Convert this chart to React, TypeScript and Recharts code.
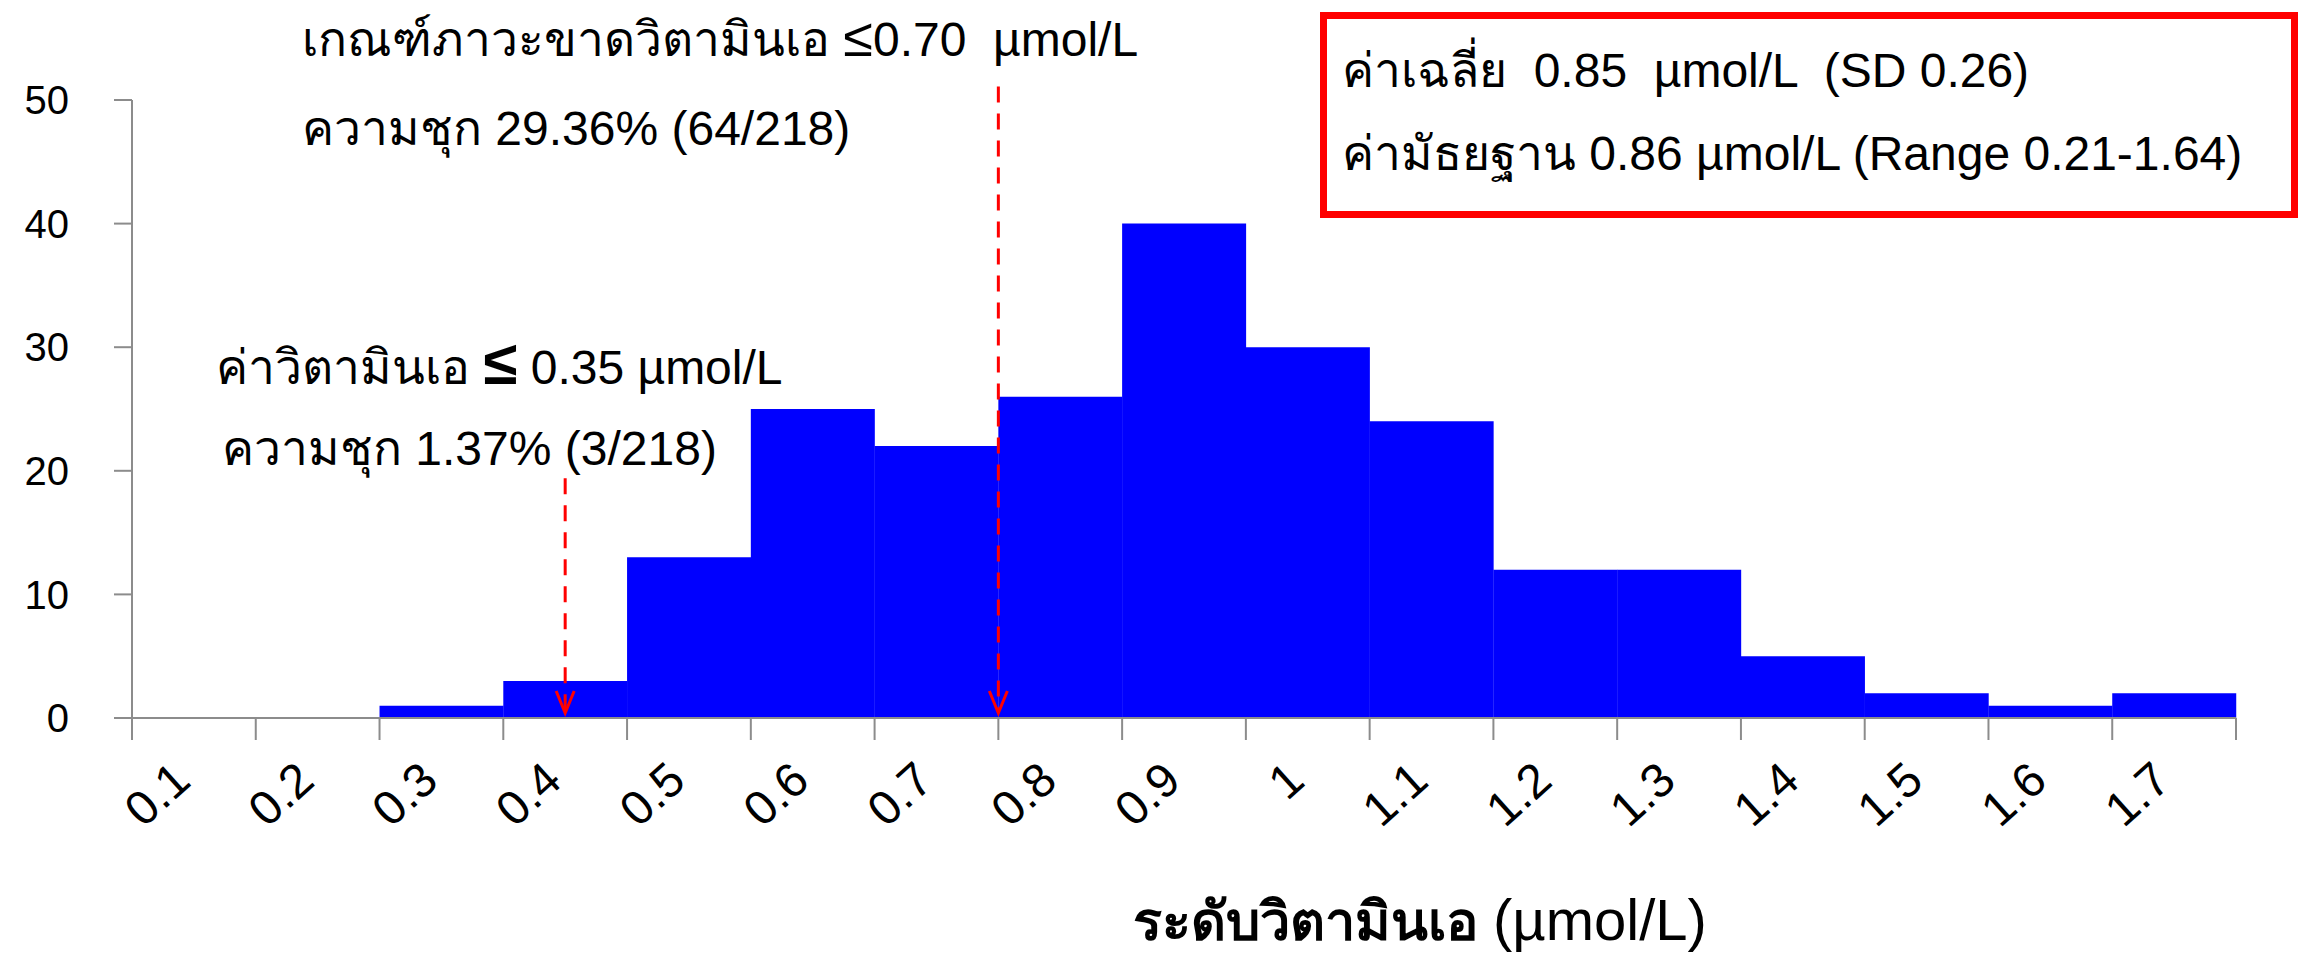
import React from 'react'
import { BarChart, Bar, XAxis, YAxis, ReferenceLine } from 'recharts'

// histogram bins (lower bound of each 0.1 µmol/L bin)
const bins = ['0.1', '0.2', '0.3', '0.4', '0.5', '0.6', '0.7', '0.8', '0.9', '1', '1.1', '1.2', '1.3', '1.4', '1.5', '1.6', '1.7']
const counts = [0, 0, 1, 3, 13, 25, 22, 26, 40, 30, 24, 12, 12, 5, 2, 1, 2]
const yTicks = [0, 10, 20, 30, 40, 50]

// cut-off arrows: bin where the arrow sits, where it lands on the band, top/bottom in count units
const cutoffs = [
  { bin: '0.8', position: 'start', top: 51.1, bottom: 0.4 },
  { bin: '0.4', position: 'middle', top: 19.4, bottom: 0.4 },
]

const FONT = '"Liberation Sans", Arial, sans-serif'
const AXIS_GRAY = '#8c8c8c'

const data = bins.map((bin, i) => ({ bin, count: counts[i] }))

const BinTick = (props: any) => {
  const { x, y, payload, index } = props
  const half = payload && payload.offset ? payload.offset : 62
  const last = index === bins.length - 1
  return (
    <g>
      <line x1={x - half} y1={y} x2={x - half} y2={y + 22} stroke={AXIS_GRAY} strokeWidth={2} />
      {last && <line x1={x + half} y1={y} x2={x + half} y2={y + 22} stroke={AXIS_GRAY} strokeWidth={2} />}
      <text
        x={0}
        y={0}
        transform={`translate(${x - 1},${y + 66}) rotate(-42)`}
        textAnchor="end"
        fill="#000"
        style={{ fontSize: 48, fontFamily: FONT }}
      >
        {payload.value}
      </text>
    </g>
  )
}

const DashedArrow = (props: any) => {
  const { x1, y1, x2, y2 } = props
  return (
    <g>
      <line x1={x1} y1={y1} x2={x2} y2={y2 - 3} stroke="#ff0000" strokeWidth={3} strokeDasharray="16 11" />
      <polyline
        points={`${x2 - 9},${y2 - 22} ${x2},${y2} ${x2 + 9},${y2 - 22}`}
        fill="none"
        stroke="#ff0000"
        strokeWidth={3}
      />
    </g>
  )
}

const textStyle: React.CSSProperties = {
  position: 'absolute',
  whiteSpace: 'pre',
  fontFamily: FONT,
  fontSize: 48,
  lineHeight: '56px',
  color: '#000',
}

export default function App() {
  return (
    <div style={{ position: 'absolute', left: 0, top: 0, width: 2307, height: 961, background: '#fff', overflow: 'hidden' }}>
      <BarChart
        width={2307}
        height={961}
        data={data}
        margin={{ top: 100, right: 71, bottom: 93, left: 32 }}
        barCategoryGap={0}
      >
        <XAxis
          dataKey="bin"
          interval={0}
          height={150}
          tickSize={0}
          tickMargin={0}
          tickLine={false}
          axisLine={{ stroke: AXIS_GRAY, strokeWidth: 2 }}
          tick={<BinTick />}
        />
        <YAxis
          width={100}
          domain={[0, 50]}
          ticks={yTicks}
          allowDataOverflow
          tickSize={18}
          tickMargin={45}
          axisLine={{ stroke: AXIS_GRAY, strokeWidth: 2 }}
          tickLine={{ stroke: AXIS_GRAY, strokeWidth: 2 }}
          tick={{ fill: '#000', fontSize: 40, fontFamily: FONT }}
        />
        <Bar dataKey="count" fill="#0000ff" isAnimationActive={false} />
        {cutoffs.map((c) => (
          <ReferenceLine
            key={c.bin}
            position={c.position as any}
            ifOverflow="visible"
            segment={[{ x: c.bin, y: c.top }, { x: c.bin, y: c.bottom }]}
            shape={<DashedArrow />}
          />
        ))}
      </BarChart>

      <div style={{ ...textStyle, left: 302, top: 9 }}>
        เกณฑ์ภาวะขาดวิตามินเอ <span style={{ fontSize: 54 }}>≤</span>0.70  µmol/L
      </div>
      <div style={{ ...textStyle, left: 302, top: 101 }}>ความชุก 29.36% (64/218)</div>

      <div style={{ ...textStyle, left: 216, top: 335 }}>
        ค่าวิตามินเอ <b style={{ fontSize: 62 }}>≤</b> 0.35 µmol/L
      </div>
      <div style={{ ...textStyle, left: 222, top: 421 }}>ความชุก 1.37% (3/218)</div>

      <div
        style={{
          position: 'absolute',
          left: 1320,
          top: 12,
          width: 964,
          height: 192,
          border: '7px solid #ff0000',
        }}
      />
      <div style={{ ...textStyle, left: 1342, top: 43 }}>ค่าเฉลี่ย  0.85  µmol/L  (SD 0.26)</div>
      <div style={{ ...textStyle, left: 1342, top: 126 }}>ค่ามัธยฐาน 0.86 µmol/L (Range 0.21-1.64)</div>

      <div style={{ ...textStyle, left: 1133, top: 889, fontSize: 54, lineHeight: '62px' }}>
        <b>ระดับวิตามินเอ</b> <span style={{ fontSize: 58 }}>(µmol/L)</span>
      </div>
    </div>
  )
}
